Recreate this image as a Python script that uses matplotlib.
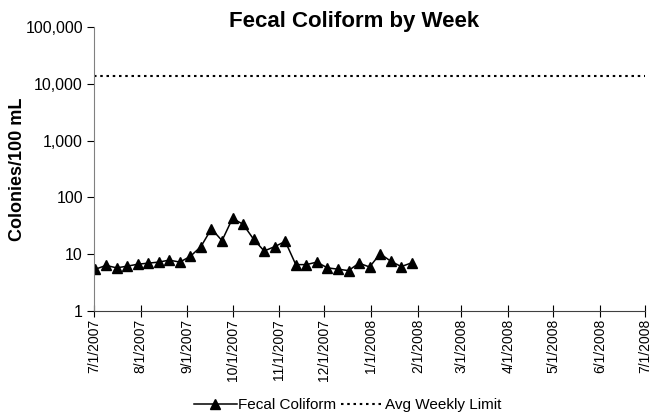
import numpy as np
import pandas as pd
import matplotlib
matplotlib.use("Agg")
import matplotlib.pyplot as plt
from matplotlib.ticker import FuncFormatter, FixedLocator, NullLocator

plt.rcParams['font.family'] = ['Liberation Sans', 'DejaVu Sans']

# weekly fecal coliform samples (colonies/100 mL)
weeks = pd.date_range('2007-07-02', periods=31, freq='7D')
fecal = [5.4, 6.3, 5.7, 6.1, 6.6, 6.9, 7.2, 7.8, 7.2, 9.1,
         13.5, 27.9, 17.2, 42.6, 33.4, 18.2, 11.3, 13.5, 16.7, 6.5,
         6.5, 7.2, 5.7, 5.4, 5.1, 6.9, 5.9, 10.1, 7.5, 6.0, 7.0]
limit = 14000
x_start, x_end = '2007-07-01', '2008-07-01'
tick_months = pd.date_range(x_start, x_end, freq='MS')
y_ticks = [1, 10, 100, 1000, 10000, 100000]

fig = plt.figure(figsize=(6.55, 4.16), dpi=100)
ax = fig.add_axes([0.1435, 0.2531, 0.8415, 0.6815])

ax.plot(weeks, fecal, color='black', lw=1.1, marker='^', ms=6.5,
        label='Fecal Coliform')
ax.plot(pd.to_datetime([x_start, x_end]), [limit, limit], color='black',
        lw=1.5, linestyle=(0, (1.2, 1.8)), label='Avg Weekly Limit')

ax.set_yscale('log')
ax.set_ylim(1, 100000)
ax.yaxis.set_major_locator(FixedLocator(y_ticks))
ax.yaxis.set_minor_locator(NullLocator())
ax.yaxis.set_major_formatter(FuncFormatter(lambda v, p: f'{v:,.0f}'))

ax.set_xlim(pd.Timestamp(x_start), pd.Timestamp(x_end))
ax.set_xticks(tick_months)
ax.set_xticklabels([f'{d.month}/{d.day}/{d.year}' for d in tick_months],
                   rotation=90)

for s in ['top', 'right']:
    ax.spines[s].set_visible(False)
ax.spines['left'].set_color('#808080')
ax.spines['bottom'].set_color('#404040')
ax.tick_params(axis='y', direction='out', length=5, labelsize=11.5, pad=3)
ax.tick_params(axis='x', direction='inout', length=8, labelsize=10, pad=2)

fig.text(0.54, 1 - 27.5 / 416, 'Fecal Coliform by Week', fontsize=16,
         fontweight='bold', ha='center', va='baseline')
ax.set_ylabel('Colonies/100 mL', fontsize=13, fontweight='bold')
ax.yaxis.set_label_coords(-0.124, 0.5)

fig.legend(loc='center', bbox_to_anchor=(0.531, 1 - 405 / 416), ncol=2,
           frameon=False, fontsize=11, handlelength=2.8, columnspacing=0.3,
           handletextpad=0.1, borderpad=0)

fig.savefig('out.png', dpi=100)
